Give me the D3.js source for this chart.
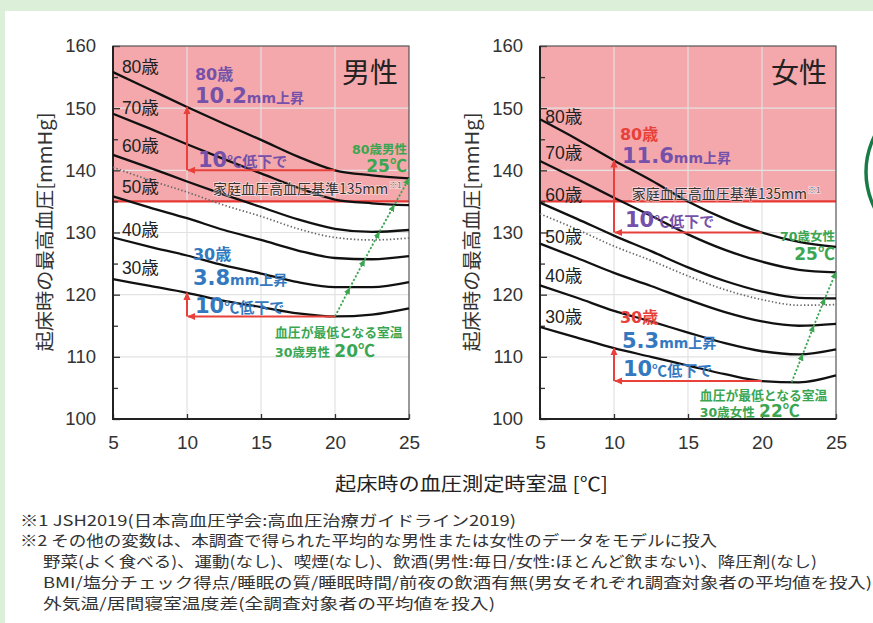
<!DOCTYPE html>
<html>
<head>
<meta charset="utf-8">
<script src="https://cdn.jsdelivr.net/npm/d3@7"></script>
<style>
  body { margin: 0; background: #dcefd9; }
  svg { display: block; }
</style>
</head>
<body>
<svg id="chart" width="873" height="623"></svg>
<script>
// ---- data ----
var temps = [5, 7.5, 10, 12.5, 15, 17.5, 20, 22.5, 25];
var ageNames = ["30歳", "40歳", "50歳", "60歳", "70歳", "80歳"];

// 男性
var male30 = [122.5, 121.4, 120.3, 119.0, 118.0, 117.0, 116.5, 116.8, 117.8];
var male40 = [129.2, 127.7, 126.3, 124.7, 123.4, 122.0, 121.2, 121.2, 122.0];
var male50 = [135.8, 134.0, 132.3, 130.4, 128.8, 127.1, 125.9, 125.7, 126.2];
var male60 = [142.5, 140.4, 138.2, 136.1, 134.1, 132.1, 130.6, 130.1, 130.4];
var male70 = [149.1, 146.7, 144.2, 141.8, 139.5, 137.2, 135.3, 134.7, 134.4];
var male80 = [155.8, 153.0, 150.2, 147.5, 144.9, 142.2, 140.0, 139.2, 138.7];
var maleAvg = [140.5, 138.4, 136.5, 134.4, 132.6, 130.6, 129.2, 128.8, 129.1];

// 女性
var female30 = [114.8, 113.1, 111.4, 110.0, 108.6, 107.2, 106.1, 105.9, 107.0];
var female40 = [121.5, 119.5, 117.4, 115.7, 113.9, 112.2, 110.9, 110.4, 111.2];
var female50 = [128.2, 125.9, 123.5, 121.4, 119.2, 117.2, 115.7, 115.0, 115.3];
var female60 = [134.8, 132.2, 129.5, 127.0, 124.4, 122.2, 120.5, 119.5, 119.4];
var female70 = [141.5, 138.6, 135.6, 132.7, 129.7, 127.2, 125.3, 124.0, 123.6];
var female80 = [148.2, 145.0, 141.6, 138.4, 135.0, 132.2, 130.0, 128.5, 127.7];
var femaleAvg = [133.0, 130.5, 127.8, 125.5, 123.0, 120.8, 119.2, 118.3, 118.4];

// 血圧が最低となる室温 (age 30 -> oldest with a minimum)
var maleMinTemp = [20, 21, 22, 23, 24, 25];
var maleMinBp = [116.5, 121.1, 125.6, 130.1, 134.4, 138.7];
var femaleMinTemp = [22, 22.75, 23.5, 24.25, 25];
var femaleMinBp = [105.9, 110.4, 115.0, 119.4, 123.6];

// 10℃低下 (20℃ -> 10℃) : [30歳, 80歳]
var riseFrom = 20, riseTo = 10;
var maleRiseLow = [116.5, 140.0], maleRiseHigh = [120.3, 150.2];
var femaleRiseLow = [106.1, 130.0], femaleRiseHigh = [111.4, 141.6];

var homeLimit = 135;
var yTicks = [100, 110, 120, 130, 140, 150, 160];
var yMinor = [105, 115, 125, 135, 145, 155];
var xTicks = [5, 10, 15, 20, 25];

// ---- layout ----
var W = 873, H = 623;
var plotTop = 46, pw = 296, ph = 373;
var purple = "#7651a9", blue = "#3479c0", red = "#e8403a", green = "#3aa651";
var jpFont = "'Noto Sans CJK JP', sans-serif";
var numFont = "'DejaVu Sans', 'Noto Sans CJK JP', sans-serif";
var axFont = "'Liberation Sans', Arial, 'Noto Sans CJK JP', sans-serif";

var svg = d3.select("#chart");

svg.append("rect").attr("width", W).attr("height", H).attr("fill", "#dcefd9");
svg.append("rect").attr("x", 5).attr("y", 11).attr("width", W - 5).attr("height", H - 11).attr("fill", "#fff");
svg.append("circle").attr("cx", 946).attr("cy", 172).attr("r", 80)
    .attr("fill", "none").attr("stroke", "#1a7a45").attr("stroke-width", 3.5);

var defs = svg.append("defs");
function marker(id, color, size) {
  defs.append("marker").attr("id", id)
      .attr("viewBox", "0 0 10 10").attr("refX", 9).attr("refY", 5)
      .attr("markerWidth", size).attr("markerHeight", size)
      .attr("markerUnits", "userSpaceOnUse").attr("orient", "auto")
    .append("path").attr("d", "M0,0.5L10,5L0,9.5z").attr("fill", color);
}
marker("arRed", red, 8);
marker("arGreen", green, 7);

// parts: [text, size, font?]
function addText(g, px, py, parts, color, anchor) {
  var t = g.append("text").attr("x", px).attr("y", py)
      .attr("fill", color).attr("font-weight", "bold")
      .attr("font-family", numFont).attr("text-anchor", anchor || "start");
  parts.forEach(function(d) {
    var s = t.append("tspan").attr("font-size", d[1]).text(d[0]);
    if (d[2]) s.attr("font-family", d[2]);
  });
  return t;
}

function drawPanel(p) {
  var g = svg.append("g").attr("transform", "translate(" + p.left + "," + plotTop + ")");
  var x = d3.scaleLinear().domain([5, 25]).range([0, pw]);
  var y = d3.scaleLinear().domain([100, 160]).range([ph, 0]);

  // 高血圧 zone
  g.append("rect").attr("x", 0).attr("y", y(160)).attr("width", pw)
      .attr("height", y(homeLimit) - y(160)).attr("fill", "#f5a8ac");

  // grid
  g.selectAll(".gx").data(xTicks.slice(1, -1)).enter().append("line")
      .attr("x1", d => x(d)).attr("x2", d => x(d)).attr("y1", 0).attr("y2", ph)
      .attr("stroke", "#e2e2e2").attr("stroke-width", 1.2);
  g.selectAll(".gy").data(yTicks.slice(1, -1)).enter().append("line")
      .attr("x1", 0).attr("x2", pw).attr("y1", d => y(d)).attr("y2", d => y(d))
      .attr("stroke", "#e2e2e2").attr("stroke-width", 1.2);

  // limit line
  g.append("line").attr("x1", 0).attr("x2", pw).attr("y1", y(homeLimit)).attr("y2", y(homeLimit))
      .attr("stroke", "#e53935").attr("stroke-width", 2.4);

  // axes
  var ya = g.append("g").call(d3.axisLeft(y).tickValues(yTicks).tickSizeInner(-7).tickSizeOuter(0).tickPadding(17));
  ya.selectAll("text").attr("font-family", axFont).attr("font-size", 18.5).attr("fill", "#333");
  g.append("g").call(d3.axisLeft(y).tickValues(yMinor).tickSizeInner(-5).tickSizeOuter(0).tickFormat(""));
  var xa = g.append("g").attr("transform", "translate(0," + ph + ")")
      .call(d3.axisBottom(x).tickValues(xTicks).tickSizeInner(-5).tickSizeOuter(0).tickPadding(17));
  xa.selectAll("text").attr("font-family", axFont).attr("font-size", 19).attr("fill", "#333");
  g.selectAll(".domain").remove();
  g.selectAll(".tick line").attr("stroke", "#333").attr("stroke-width", 1.3);

  g.append("rect").attr("width", pw).attr("height", ph)
      .attr("fill", "none").attr("stroke", "#555").attr("stroke-width", 1.2);
  g.append("path").attr("d", "M0,0V" + ph + "H" + pw)
      .attr("fill", "none").attr("stroke", "#222").attr("stroke-width", 2);

  // curves
  var line = d3.line().x((d, i) => x(temps[i])).y(d => y(d)).curve(d3.curveMonotoneX);
  g.append("path").datum(p.avg).attr("d", line).attr("fill", "none")
      .attr("stroke", "#666").attr("stroke-width", 1.7).attr("stroke-dasharray", "1.4,2.2");
  g.selectAll(".curve").data(p.series).enter().append("path")
      .attr("d", line).attr("fill", "none").attr("stroke", "#111").attr("stroke-width", 2.3);

  // age labels
  g.selectAll(".age").data(ageNames).enter().append("text")
      .attr("x", x(p.ageX)).attr("y", (d, i) => y(p.ageY[i]))
      .attr("dominant-baseline", "central")
      .attr("font-family", axFont).attr("font-size", 17.5).attr("fill", "#222")
      .text(d => d);

  // red arrows: 10℃低下
  [0, 1].forEach(function(k) {
    g.append("line").attr("x1", x(riseFrom)).attr("x2", x(riseTo) + 1)
        .attr("y1", y(p.riseLow[k])).attr("y2", y(p.riseLow[k]))
        .attr("stroke", red).attr("stroke-width", 2).attr("marker-end", "url(#arRed)");
    g.append("line").attr("x1", x(riseTo)).attr("x2", x(riseTo))
        .attr("y1", y(p.riseLow[k])).attr("y2", y(p.riseHigh[k]))
        .attr("stroke", red).attr("stroke-width", 2).attr("marker-end", "url(#arRed)");
  });

  // green arrow through the minima
  g.append("path")
      .attr("d", d3.line()(p.minTemp.map((t, i) => [x(t), y(p.minBp[i])])))
      .attr("fill", "none").attr("stroke", green).attr("stroke-width", 1.8)
      .attr("stroke-dasharray", "2.2,1.8")
      .attr("marker-mid", "url(#arGreen)").attr("marker-end", "url(#arGreen)");

  // title
  g.append("text").attr("x", x(p.titlePos[0])).attr("y", y(p.titlePos[1]))
      .attr("text-anchor", "end").attr("font-family", jpFont).attr("font-size", 28)
      .attr("fill", "#222").text(p.title);

  // 家庭血圧高血圧基準
  var lt = g.append("text").attr("x", x(p.limitPos[0])).attr("y", y(p.limitPos[1]))
      .attr("font-family", jpFont).attr("font-size", 14).attr("fill", "#333")
      .attr("stroke", "rgba(255,255,255,0.55)").attr("stroke-width", 1.6).attr("paint-order", "stroke");
  lt.append("tspan").text("家庭血圧高血圧基準" + homeLimit + "mm");
  lt.append("tspan").attr("font-size", 8).attr("dy", -6).attr("dx", 1).attr("fill", "#666").text("※1");

  // annotations: older / younger
  var a = p.notes;
  var drop = String(riseFrom - riseTo);
  addText(g, x(a.oldAge[0]), y(a.oldAge[1]), [[p.oldName, 16]], a.oldAgeColor);
  addText(g, x(a.oldRise[0]), y(a.oldRise[1]),
      [[(p.riseHigh[1] - p.riseLow[1]).toFixed(1), 21], ["mm上昇", 14]], purple);
  addText(g, x(a.oldDrop[0]), y(a.oldDrop[1]), [[drop, 21], ["℃", 15, jpFont], ["低下で", 15]], purple);
  addText(g, x(a.youngAge[0]), y(a.youngAge[1]), [["30歳", 16]], a.youngAgeColor);
  addText(g, x(a.youngRise[0]), y(a.youngRise[1]),
      [[(p.riseHigh[0] - p.riseLow[0]).toFixed(1), 21], ["mm上昇", 14]], blue);
  addText(g, x(a.youngDrop[0]), y(a.youngDrop[1]), [[drop, 21], ["℃", 15, jpFont], ["低下で", 15]], blue);

  // green notes
  var lastT = p.minTemp[p.minTemp.length - 1];
  addText(g, x(a.topGreen[0]), y(a.topGreen[1]), [[p.topGreenName, 12.5]], green, "end");
  addText(g, x(a.topGreen[0]), y(a.topGreen[2]), [[String(lastT), 17], ["℃", 17, jpFont]], green, "end");
  addText(g, x(a.lowGreen[0]), y(a.lowGreen[1]), [["血圧が最低となる室温", 12.8]], green);
  addText(g, x(a.lowGreen[0]), y(a.lowGreen[2]),
      [[p.lowGreenName + " ", 12.5], [String(p.minTemp[0]), 17], ["℃", 17, jpFont]], green);

  // y title
  svg.append("text")
      .attr("transform", "translate(" + (p.left - 70) + "," + 232 + ") rotate(-90)")
      .attr("text-anchor", "middle").attr("dominant-baseline", "central")
      .attr("font-family", jpFont).attr("font-size", 19).attr("fill", "#333")
      .attr("textLength", 239).attr("lengthAdjust", "spacingAndGlyphs")
      .text("起床時の最高血圧[mmHg]");
}

drawPanel({
  left: 113, title: "男性", titlePos: [24.26, 154.0],
  series: [male30, male40, male50, male60, male70, male80], avg: maleAvg,
  ageX: 5.6, ageY: [124.3, 130.4, 137.3, 143.9, 150.0, 156.6],
  riseLow: maleRiseLow, riseHigh: maleRiseHigh,
  minTemp: maleMinTemp, minBp: maleMinBp,
  limitPos: [11.76, 136.2],
  oldName: "80歳", topGreenName: "80歳男性", lowGreenName: "30歳男性",
  notes: {
    oldAge: [10.54, 154.5], oldAgeColor: purple,
    oldRise: [10.54, 150.8], oldDrop: [10.74, 140.5],
    youngAge: [10.4, 125.6], youngAgeColor: blue,
    youngRise: [10.4, 121.6], youngDrop: [10.54, 117.1],
    topGreen: [24.86, 142.6, 139.7], lowGreen: [15.95, 113.2, 110.0]
  }
});

drawPanel({
  left: 540, title: "女性", titlePos: [24.4, 154.0],
  series: [female30, female40, female50, female60, female70, female80], avg: femaleAvg,
  ageX: 5.35, ageY: [116.4, 123.0, 129.3, 136.0, 142.8, 148.6],
  riseLow: femaleRiseLow, riseHigh: femaleRiseHigh,
  minTemp: femaleMinTemp, minBp: femaleMinBp,
  limitPos: [11.2, 135.4],
  oldName: "80歳", topGreenName: "70歳女性", lowGreenName: "30歳女性",
  notes: {
    oldAge: [10.4, 144.9], oldAgeColor: red,
    oldRise: [10.54, 141.2], oldDrop: [10.74, 130.9],
    youngAge: [10.4, 115.4], youngAgeColor: red,
    youngRise: [10.54, 111.4], youngDrop: [10.6, 106.9],
    topGreen: [24.93, 128.6, 125.6], lowGreen: [15.8, 103.1, 100.3]
  }
});

// x title
svg.append("text").attr("x", 471.5).attr("y", 491).attr("text-anchor", "middle")
    .attr("font-family", jpFont).attr("font-size", 19).attr("fill", "#222")
    .attr("textLength", 273).attr("lengthAdjust", "spacingAndGlyphs")
    .text("起床時の血圧測定時室温 [℃]");

// footnotes
var notes = [
  { t: "※1 JSH2019(日本高血圧学会:高血圧治療ガイドライン2019)", x: 20, y: 526, len: 496 },
  { t: "※2 その他の変数は、本調査で得られた平均的な男性または女性のデータをモデルに投入", x: 20, y: 546, len: 697 },
  { t: "野菜(よく食べる)、運動(なし)、喫煙(なし)、飲酒(男性:毎日/女性:ほとんど飲まない)、降圧剤(なし)", x: 43, y: 567, len: 774 },
  { t: "BMI/塩分チェック得点/睡眠の質/睡眠時間/前夜の飲酒有無(男女それぞれ調査対象者の平均値を投入)", x: 43, y: 588, len: 829 },
  { t: "外気温/居間寝室温度差(全調査対象者の平均値を投入)", x: 43, y: 609, len: 452 }
];
svg.selectAll(".note").data(notes).enter().append("text")
    .attr("x", d => d.x).attr("y", d => d.y)
    .attr("textLength", d => d.len).attr("lengthAdjust", "spacingAndGlyphs")
    .attr("font-family", jpFont).attr("font-size", 15).attr("fill", "#333")
    .text(d => d.t);
</script>
</body>
</html>
